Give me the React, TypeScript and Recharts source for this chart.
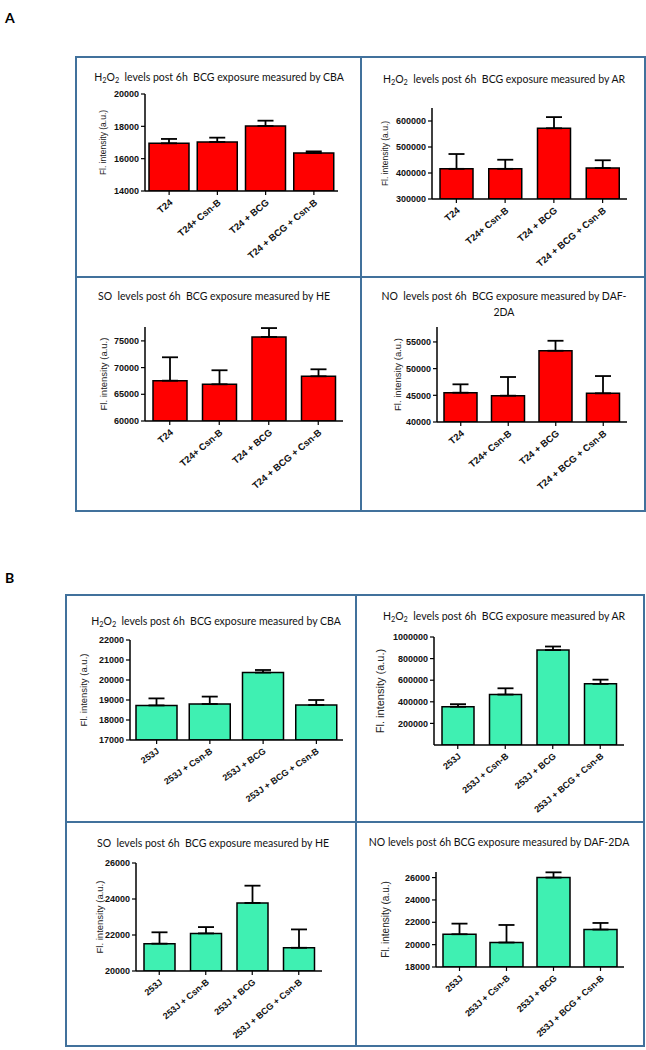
import React from "react";
import { Bar, BarChart, ErrorBar, XAxis, YAxis } from "recharts";

// group names
const t24Groups = ["T24", "T24+ Csn-B", "T24 + BCG", "T24 + BCG + Csn-B"];
const j253Groups = ["253J", "253J + Csn-B", "253J + BCG", "253J + BCG + Csn-B"];

// A: T24 cells (mean, upper SD)
const t24Cba = [16950, 17030, 18020, 16350];
const t24CbaErr = [270, 270, 330, 100];
const t24Ar = [416000, 416000, 572000, 419000];
const t24ArErr = [57000, 35000, 43000, 30000];
const t24He = [67550, 66870, 75730, 68370];
const t24HeErr = [4380, 2630, 1670, 1310];
const t24Daf = [45490, 44930, 53350, 45370];
const t24DafErr = [1570, 3500, 1870, 3240];

// B: 253J cells
const j253Cba = [18730, 18800, 20370, 18750];
const j253CbaErr = [350, 370, 130, 250];
const j253Ar = [354000, 467000, 879000, 566000];
const j253ArErr = [24000, 58000, 33000, 39000];
const j253He = [21520, 22090, 23780, 21290];
const j253HeErr = [630, 350, 960, 1020];
const j253Daf = [20930, 20190, 26000, 21350];
const j253DafErr = [950, 1570, 470, 590];

// y axis ticks
const ticksCbaA = [14000, 16000, 18000, 20000];
const ticksArA = [300000, 400000, 500000, 600000];
const ticksHeA = [60000, 65000, 70000, 75000];
const ticksDafA = [40000, 45000, 50000, 55000];
const ticksCbaB = [17000, 18000, 19000, 20000, 21000, 22000];
const ticksArB = [200000, 400000, 600000, 800000, 1000000];
const ticksHeB = [20000, 22000, 24000, 26000];
const ticksDafB = [18000, 20000, 22000, 24000, 26000];

const RED = "#ff0000";
const MINT = "#3ff0b2";
const BLUE = "#41719c";
const ARIAL = "'Liberation Sans', Arial, sans-serif";
const TITLE_FONT = "Lato, 'Open Sans', sans-serif";

function Chem({ name }) {
  if (name === "H2O2") {
    const sub = { fontSize: "0.7em", verticalAlign: "-0.3em", lineHeight: 0 };
    return (
      <span>
        H<span style={sub}>2</span>O<span style={sub}>2</span>
      </span>
    );
  }
  return <span>{name}</span>;
}

function Title({ cx, cy, chem, text, text2 }) {
  return (
    <div
      style={{
        position: "absolute",
        left: cx - 160,
        top: cy - 8,
        width: 320,
        textAlign: "center",
        fontFamily: TITLE_FONT,
        fontSize: 10.5,
        lineHeight: "16px",
        whiteSpace: "pre",
        color: "#111",
      }}
    >
      <Chem name={chem} />
      {text}
      {text2 ? <div>{text2}</div> : null}
    </div>
  );
}

function XTick({ x, y, payload, rot, size }) {
  return (
    <g transform={`translate(${x},${y})`}>
      <text
        x={0}
        y={0}
        dy={size * 0.8}
        dx={-1}
        textAnchor="end"
        transform={`rotate(${rot})`}
        fontSize={size}
        fontWeight="bold"
        fontFamily={ARIAL}
        fill="#111"
      >
        {payload.value}
      </text>
    </g>
  );
}

function Chart({ groups, values, errors, domain, ticks, box, barSize, fill, rot, labelGap, labelSize, tickSize }) {
  const [x0, x1, yTop, yBottom] = box;
  const padL = 80;
  const padT = 12;
  const padR = 4;
  const axisH = 100;
  const data = groups.map((g, i) => ({ name: g, value: values[i], err: [0, errors[i]] }));
  const yLabel = (props) => {
    const vb = props.viewBox;
    const cx = vb.x + vb.width - labelGap;
    const cy = vb.y + vb.height / 2;
    return (
      <text
        x={cx}
        y={cy}
        transform={`rotate(-90 ${cx} ${cy})`}
        textAnchor="middle"
        dominantBaseline="central"
        fontSize={labelSize}
        fontFamily={ARIAL}
        fill="#222"
      >
        Fl. intensity (a.u.)
      </text>
    );
  };
  return (
    <div style={{ position: "absolute", left: x0 - padL, top: yTop - padT }}>
      <BarChart
        width={x1 - x0 + padL + padR}
        height={yBottom - yTop + padT + axisH}
        data={data}
        margin={{ top: padT, right: padR, left: 0, bottom: 0 }}
      >
        <XAxis
          dataKey="name"
          interval={0}
          height={axisH}
          tickSize={4}
          axisLine={{ stroke: "#000", strokeWidth: 1.5 }}
          tickLine={{ stroke: "#000", strokeWidth: 1.2 }}
          tick={(p) => <XTick {...p} rot={rot} size={tickSize} />}
        />
        <YAxis
          type="number"
          width={padL}
          domain={domain}
          ticks={ticks}
          allowDataOverflow
          tickSize={4}
          tickMargin={2}
          axisLine={{ stroke: "#000", strokeWidth: 1.5 }}
          tickLine={{ stroke: "#000", strokeWidth: 1.2 }}
          tick={{ fontSize: 9, fontWeight: "bold", fontFamily: ARIAL, fill: "#111" }}
          label={{ content: yLabel }}
        />
        <Bar dataKey="value" fill={fill} stroke="#000" strokeWidth={1.5} barSize={barSize} isAnimationActive={false}>
          <ErrorBar dataKey="err" direction="y" width={8} stroke="#000" strokeWidth={1.8} />
        </Bar>
      </BarChart>
    </div>
  );
}

function Box({ left, top, width, height }) {
  return (
    <div
      style={{
        position: "absolute",
        left,
        top,
        width,
        height,
        border: `2px solid ${BLUE}`,
        boxSizing: "border-box",
      }}
    />
  );
}

export default function App() {
  return (
    <div style={{ position: "absolute", left: 0, top: 0, width: 646, height: 1050, background: "#fff", overflow: "hidden" }}>
      <div style={{ position: "absolute", left: 5, top: 9, fontFamily: TITLE_FONT, fontWeight: "bold", fontSize: 14 }}>A</div>
      <div style={{ position: "absolute", left: 5, top: 569, fontFamily: TITLE_FONT, fontWeight: "bold", fontSize: 14 }}>B</div>

      <Box left={75} top={56} width={287} height={222} />
      <Box left={360} top={56} width={286} height={222} />
      <Box left={75} top={276} width={287} height={236} />
      <Box left={360} top={276} width={286} height={236} />

      <Box left={65} top={594} width={292} height={229} />
      <Box left={355} top={594} width={290} height={229} />
      <Box left={65} top={821} width={292} height={226} />
      <Box left={355} top={821} width={290} height={226} />

      <Title cx={219} cy={77} chem="H2O2" text="  levels post 6h  BCG exposure measured by CBA" />
      <Title cx={504} cy={79} chem="H2O2" text="  levels post 6h  BCG exposure measured by AR" />
      <Title cx={214} cy={296} chem="SO" text="  levels post 6h  BCG exposure measured by HE" />
      <Title cx={504} cy={296} chem="NO" text="  levels post 6h  BCG exposure measured by DAF-" text2="2DA" />
      <Title cx={216} cy={621} chem="H2O2" text="  levels post 6h  BCG exposure measured by CBA" />
      <Title cx={504} cy={616} chem="H2O2" text="  levels post 6h  BCG exposure measured by AR" />
      <Title cx={213} cy={843} chem="SO" text="  levels post 6h  BCG exposure measured by HE" />
      <Title cx={499} cy={842} chem="NO" text=" levels post 6h BCG exposure measured by DAF-2DA" />

      <Chart groups={t24Groups} values={t24Cba} errors={t24CbaErr} domain={[14000, 20000]} ticks={ticksCbaA}
        box={[145, 338, 94, 191]} barSize={40} fill={RED} rot={-40} labelGap={42} labelSize={8.5} tickSize={9.5} />
      <Chart groups={t24Groups} values={t24Ar} errors={t24ArErr} domain={[300000, 650000]} ticks={ticksArA}
        box={[432, 627, 108, 199]} barSize={33} fill={RED} rot={-40} labelGap={47} labelSize={8.5} tickSize={9.5} />
      <Chart groups={t24Groups} values={t24He} errors={t24HeErr} domain={[60000, 77600]} ticks={ticksHeA}
        box={[145, 343, 327, 421]} barSize={34} fill={RED} rot={-40} labelGap={42} labelSize={9.5} tickSize={9.5} />
      <Chart groups={t24Groups} values={t24Daf} errors={t24DafErr} domain={[40000, 57800]} ticks={ticksDafA}
        box={[437, 627, 327, 422]} barSize={33} fill={RED} rot={-40} labelGap={40} labelSize={9.5} tickSize={9.5} />

      <Chart groups={j253Groups} values={j253Cba} errors={j253CbaErr} domain={[17000, 22000]} ticks={ticksCbaB}
        box={[130, 343, 640, 740]} barSize={41} fill={MINT} rot={-35} labelGap={47} labelSize={9.5} tickSize={9} />
      <Chart groups={j253Groups} values={j253Ar} errors={j253ArErr} domain={[0, 1000000]} ticks={ticksArB}
        box={[434, 624, 637, 745]} barSize={32} fill={MINT} rot={-40} labelGap={54} labelSize={11} tickSize={9} />
      <Chart groups={j253Groups} values={j253He} errors={j253HeErr} domain={[20000, 26000]} ticks={ticksHeB}
        box={[136, 322, 863, 971]} barSize={31} fill={MINT} rot={-40} labelGap={37} labelSize={9.5} tickSize={9} />
      <Chart groups={j253Groups} values={j253Daf} errors={j253DafErr} domain={[18000, 26500]} ticks={ticksDafB}
        box={[436, 624, 872, 967]} barSize={33} fill={MINT} rot={-42} labelGap={51} labelSize={10} tickSize={9} />
    </div>
  );
}
